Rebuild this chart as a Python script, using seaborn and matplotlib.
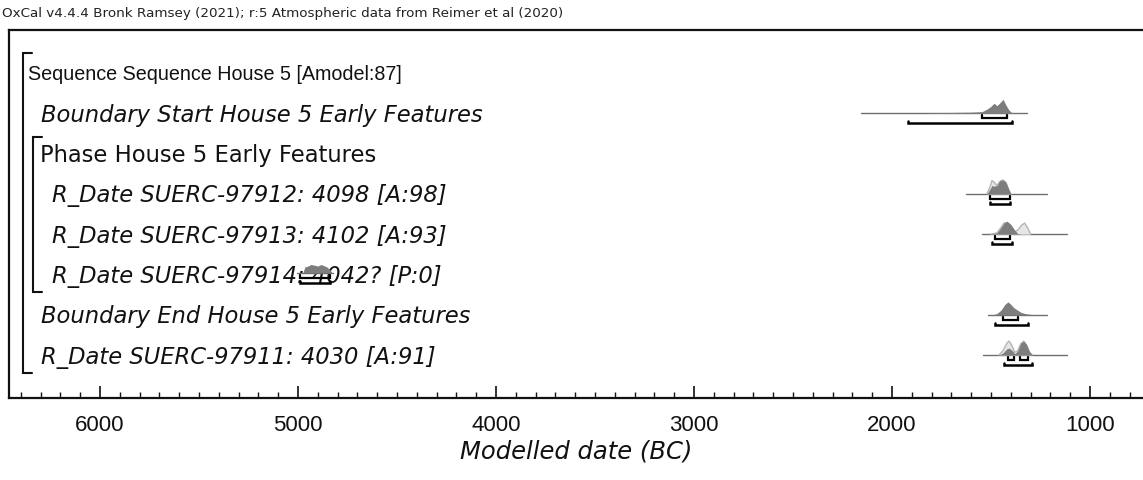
import matplotlib
matplotlib.use("Agg")
import matplotlib.pyplot as plt
import matplotlib.transforms as mtransforms
import seaborn as sns
import numpy as np

# ---------------- data ----------------
header = "OxCal v4.4.4 Bronk Ramsey (2021); r:5 Atmospheric data from Reimer et al (2020)"
row_labels = [
    "Sequence Sequence House 5 [Amodel:87]",
    "Boundary Start House 5 Early Features",
    "Phase House 5 Early Features",
    "R_Date SUERC-97912: 4098 [A:98]",
    "R_Date SUERC-97913: 4102 [A:93]",
    "R_Date SUERC-97914: 4042? [P:0]",
    "Boundary End House 5 Early Features",
    "R_Date SUERC-97911: 4030 [A:91]",
]
row_italic = [False, True, False, True, True, True, True, True]

x_ticks = [6000, 5000, 4000, 3000, 2000, 1000]
x_label = "Modelled date (BC)"

# Boundary Start (row 1)
bs_range = [2157, 1318]
bs_years = [2157, 1818, 1816, 1700, 1600, 1545, 1520, 1500, 1485, 1470, 1455, 1439, 1425, 1410, 1395, 1318]
bs_dark = [0, 0, 0.05, 0.06, 0.08, 0.12, 0.3, 0.5, 0.72, 0.55, 0.75, 1.0, 0.6, 0.25, 0.03, 0]
bs_r68 = [[1545, 1419]]
bs_r95 = [[1919, 1394]]

# SUERC-97912 (row 3)
r12_range = [1626, 1217]
r12_years = [1520, 1505, 1495, 1485, 1470, 1455, 1440, 1425, 1410, 1400]
r12_light = [0, 0.5, 0.95, 0.85, 0.6, 0.9, 1.0, 0.8, 0.3, 0]
r12_dark = [0, 0.35, 0.6, 0.55, 0.6, 0.95, 1.0, 0.85, 0.3, 0]
r12_r68 = [[1505, 1404]]
r12_r95 = [[1505, 1404]]

# SUERC-97913 (row 4)
r13_range = [1545, 1116]
r13_years = [1500, 1470, 1450, 1435, 1419, 1400, 1380, 1365, 1345, 1330, 1315, 1300]
r13_light = [0, 0.1, 0.5, 0.85, 0.9, 0.65, 0.2, 0.3, 0.7, 0.85, 0.5, 0]
r13_dark = [0, 0.1, 0.5, 0.85, 1.0, 0.75, 0.3, 0.05, 0, 0, 0, 0]
r13_r68 = [[1480, 1404]]
r13_r95 = [[1495, 1395]]

# SUERC-97914 outlier (row 5)
r14_range = [5005, 4823]
r14_years = [4975, 4965, 4950, 4935, 4915, 4900, 4885, 4870, 4855, 4840, 4830]
r14_dark = [0, 0.7, 0.8, 1.0, 0.9, 0.8, 1.0, 0.85, 0.7, 0.4, 0]
r14_r68 = [[4990, 4840]]
r14_r95 = [[4990, 4840]]

# Boundary End (row 6)
be_range = [1515, 1217]
be_years = [1490, 1470, 1450, 1430, 1414, 1400, 1385, 1370, 1350, 1330, 1300, 1260]
be_dark = [0, 0.1, 0.35, 0.8, 1.0, 0.8, 0.55, 0.4, 0.2, 0.1, 0.03, 0]
be_r68 = [[1439, 1364]]
be_r95 = [[1480, 1313]]

# SUERC-97911 (row 7)
r11_range = [1540, 1116]
r11_years = [1460, 1440, 1420, 1409, 1395, 1380, 1365, 1350, 1335, 1320, 1305, 1290]
r11_light = [0, 0.3, 0.85, 1.0, 0.7, 0.2, 0.3, 0.8, 1.0, 0.7, 0.2, 0]
r11_dark = [0, 0.15, 0.45, 0.5, 0.35, 0.1, 0.3, 0.85, 1.0, 0.75, 0.2, 0]
r11_r68 = [[1414, 1384], [1353, 1313]]
r11_r95 = [[1434, 1293]]

# ---------------- style ----------------
sns.set_theme(style="white")
plt.rcParams['font.family'] = ['Liberation Sans', 'DejaVu Sans']
WIDE = ['DejaVu Sans']
NARROW = ['Liberation Sans Narrow', 'Liberation Sans']

W, H = 1143, 480
fig = plt.figure(figsize=(W / 100, H / 100), dpi=100)
ax_left, ax_right, ax_top, ax_bottom = 9, 1150, 30, 398
ax = fig.add_axes([ax_left / W, 1 - ax_bottom / H, (ax_right - ax_left) / W, (ax_bottom - ax_top) / H])

px_per_year = 0.198
x0_px, x0_year = 100, 6000
ax.set_xlim(x0_year + (x0_px - ax_left) / px_per_year, x0_year - (ax_right - x0_px) / px_per_year)
row0_px, row_px = 75, 40.3
ax.set_ylim((ax_bottom - row0_px) / row_px, (ax_top - row0_px) / row_px)

P = 1 / row_px  # one pixel in row units

dark_col = "#7d7d7d"
light_fill = "#e6e6e6"
light_edge = "#b4b4b4"
base_col = "#6e6e6e"


def draw_row(row, rng, years=None, light=None, dark=None, peak_px=14, r68=(), r95=(),
             light_scale=1.0, base_off=-2):
    yb = row + base_off * P
    sns.lineplot(x=rng, y=[yb, yb], ax=ax, color=base_col, lw=1.0, legend=False,
                 estimator=None, sort=False, zorder=2)
    if years is not None:
        yrs = np.asarray(years, float)
        if light is not None:
            top = yb - np.asarray(light) * peak_px * light_scale * P
            ax.fill_between(yrs, yb, top, color=light_fill, lw=0, zorder=3)
            ax.plot(yrs, top, color=light_edge, lw=1.0, zorder=4)
        if dark is not None:
            top = yb - np.asarray(dark) * peak_px * P
            ax.fill_between(yrs, yb, top, color=dark_col, lw=0, zorder=5)
    for a, b in r68:
        y = yb + 5 * P
        ax.plot([a, a, b, b], [y - 3 * P, y, y, y - 3 * P], color="black", lw=1.6, zorder=6,
                solid_joinstyle="miter")
    for a, b in r95:
        y = yb + 10 * P
        ax.plot([a, a, b, b], [y - 2 * P, y, y, y - 2 * P], color="black", lw=1.8, zorder=6,
                solid_joinstyle="miter")


draw_row(1, bs_range, bs_years, None, bs_dark, 14, bs_r68, bs_r95)
draw_row(3, r12_range, r12_years, r12_light, r12_dark, 14, r12_r68, r12_r95)
draw_row(4, r13_range, r13_years, r13_light, r13_dark, 13, r13_r68, r13_r95)
draw_row(5, r14_range, r14_years, None, r14_dark, 8, r14_r68, r14_r95, base_off=-4)
draw_row(6, be_range, be_years, None, be_dark, 13, be_r68, be_r95)
draw_row(7, r11_range, r11_years, r11_light, r11_dark, 14, r11_r68, r11_r95)

# labels (x in figure pixels, y in rows)
tr = mtransforms.blended_transform_factory(fig.transFigure, ax.transData)
label_x_px = [28, 41, 40, 52, 52, 52, 41, 41]
for i, (lab, it) in enumerate(zip(row_labels, row_italic)):
    if i == 0:
        fam, fs = NARROW, 14.2
    else:
        fam, fs = WIDE, 16.3
    ax.text(label_x_px[i] / W, i, lab, transform=tr, ha="left", va="center",
            fontsize=fs, family=fam, style="italic" if it else "normal",
            color="#111111", zorder=1)

# brackets
def bracket(x_px, y_top_px, y_bot_px, arm_px=9):
    yt = (y_top_px - row0_px) / row_px
    yb = (y_bot_px - row0_px) / row_px
    xs = [(x_px + arm_px) / W, x_px / W, x_px / W, (x_px + arm_px) / W]
    ax.plot(xs, [yt, yt, yb, yb], transform=tr, color="#111111", lw=1.5, clip_on=False,
            solid_joinstyle="miter")

bracket(22.7, 53, 373)
bracket(32.7, 137, 292)

# axes styling
ax.spines["right"].set_visible(False)
for s in ["left", "top", "bottom"]:
    ax.spines[s].set_visible(True)
    ax.spines[s].set_color("#111111")
    ax.spines[s].set_linewidth(1.6)
ax.set_yticks([])
ax.set_xticks(x_ticks)
ax.set_xticklabels([str(t) for t in x_ticks], fontsize=16, color="#111111")
ax.set_xticks(np.arange(700, 6500, 100), minor=True)
ax.tick_params(axis="x", which="major", direction="in", length=9, width=1.2, pad=12,
               bottom=True, colors="#111111")
ax.tick_params(axis="x", which="minor", direction="in", length=4.5, width=1.0, bottom=True,
               colors="#111111")
ax.set_xlabel(x_label, fontsize=17.5, family=WIDE, style="italic", color="#111111", labelpad=3)
ax.xaxis.label.set_position(((576 - ax_left) / (ax_right - ax_left), 0))
ax.set_ylabel("")

fig.text(2 / W, 1 - 14 / H, header, fontsize=9.7, family=WIDE, ha="left", va="center",
         color="#222222")

fig.savefig("out.png", dpi=100)
